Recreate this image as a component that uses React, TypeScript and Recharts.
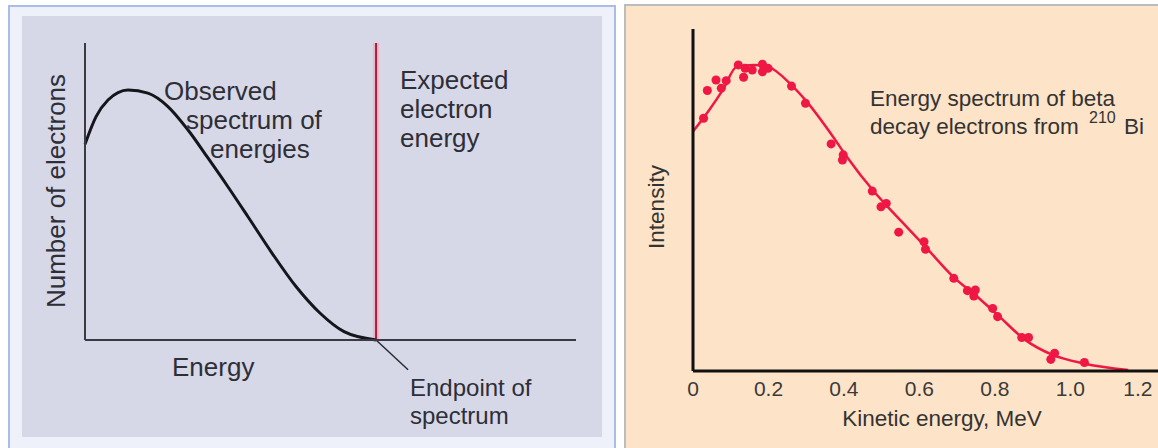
import React from "react";
import {
  ComposedChart,
  LineChart,
  Line,
  Scatter,
  XAxis,
  YAxis,
  ZAxis,
  ReferenceLine,
} from "recharts";

// left panel: schematic spectrum, energy in units of the endpoint
const schemeEnergy = [0, 0.038, 0.079, 0.148, 0.216, 0.285, 0.354, 0.423, 0.491, 0.56, 0.643, 0.725, 0.808, 0.89, 1.0];
const schemeCount = [0.659, 0.752, 0.808, 0.842, 0.831, 0.786, 0.707, 0.612, 0.516, 0.415, 0.292, 0.18, 0.09, 0.028, 0];
const endpoint = 1.0;

// right panel: 210Bi beta spectrum, fitted curve
const fitEnergy = [0, 0.043, 0.079, 0.116, 0.161, 0.198, 0.261, 0.298, 0.371, 0.407, 0.48, 0.516, 0.553, 0.616, 0.689, 0.753, 0.807, 0.88, 0.953, 1.035, 1.153];
const fitIntensity = [70.0, 76.3, 82.2, 89.0, 89.5, 89.0, 83.6, 79.2, 68.5, 62.7, 52.4, 48.0, 43.7, 36.3, 27.6, 21.7, 16.4, 9.1, 4.7, 2.2, 0.3];

// measured points
const measEnergy = [0.028, 0.038, 0.061, 0.075, 0.088, 0.12, 0.134, 0.138, 0.157, 0.184, 0.184, 0.199, 0.261, 0.298, 0.366, 0.398, 0.396, 0.475, 0.498, 0.512, 0.545, 0.612, 0.616, 0.691, 0.727, 0.744, 0.748, 0.794, 0.807, 0.871, 0.889, 0.948, 0.958, 1.037];
const measIntensity = [73.9, 82.0, 85.1, 82.7, 84.9, 89.5, 85.9, 88.5, 88.0, 89.7, 87.5, 88.5, 83.3, 78.3, 66.4, 63.2, 61.7, 52.6, 48.0, 49.0, 40.6, 37.8, 35.6, 27.1, 23.5, 21.9, 23.7, 18.3, 15.9, 9.8, 9.8, 3.4, 5.2, 2.5];

const energyTicks = [0, 0.2, 0.4, 0.6, 0.8, 1.0, 1.2];

const schemeData = schemeEnergy.map((e, i) => ({ e, n: schemeCount[i] }));
const fitData = fitEnergy.map((e, i) => ({ e, i: fitIntensity[i] }));
const measData = measEnergy.map((e, k) => ({ e, i: measIntensity[k] }));

const FONT = "'Liberation Sans', Arial, Helvetica, sans-serif";
const RED = "#ef1744";

function EnergyTick(props: any) {
  const { x, y, payload, index } = props;
  const v = payload.value as number;
  const label = v === 0 ? "0" : v.toFixed(1);
  const shift = index === energyTicks.length - 1 ? -8 : 0;
  return (
    <text x={x + shift} y={y + 17} textAnchor="middle" fontSize={21} fill="#3a3a3a" fontFamily={FONT}>
      {label}
    </text>
  );
}

export default function App() {
  return (
    <div style={{ position: "absolute", left: 0, top: 0, width: 1158, height: 448, overflow: "hidden", background: "#fff", fontFamily: FONT }}>
      {/* left frame */}
      <div style={{ position: "absolute", left: 8, top: 5, width: 604, height: 450, border: "2px solid #a9bde6", background: "#eef1f9" }} />
      <div style={{ position: "absolute", left: 22, top: 16, width: 580, height: 421, background: "#d6d8e8" }} />
      {/* right frame */}
      <div style={{ position: "absolute", left: 624, top: 4, width: 540, height: 450, borderLeft: "2px solid #bcbcbc", borderTop: "2px solid #bcbcbc", background: "#fde3c7" }} />

      <div style={{ position: "absolute", left: 0, top: 0 }}>
        <LineChart width={620} height={448} data={schemeData} margin={{ top: 43, left: 84, right: 44, bottom: 107 }}>
          <XAxis dataKey="e" type="number" domain={[0, 1.687]} height={1} tick={false} tickLine={false} axisLine={{ stroke: "#3a3a44", strokeWidth: 2 }} />
          <YAxis type="number" domain={[0, 1]} width={1} tick={false} tickLine={false} axisLine={{ stroke: "#3a3a44", strokeWidth: 2 }} />
          <ReferenceLine x={endpoint} stroke="#f2b3c2" strokeWidth={6} />
          <ReferenceLine x={endpoint} stroke="#9a2442" strokeWidth={2} />
          <ReferenceLine
            segment={[{ x: endpoint, y: 0 }, { x: 1.11, y: -0.1 }]}
            ifOverflow="visible"
            stroke="#2a2a30"
            strokeWidth={1.5}
          />
          <Line dataKey="n" type="monotone" stroke="#15151c" strokeWidth={3} dot={false} isAnimationActive={false} />
        </LineChart>
      </div>

      <div style={{ position: "absolute", left: 620, top: 0 }}>
        <ComposedChart width={538} height={448} margin={{ top: 29, left: 72, right: 0, bottom: 37 }}>
          <XAxis
            dataKey="e"
            type="number"
            domain={[0, 1.232]}
            ticks={energyTicks}
            interval={0}
            height={40}
            tickLine={false}
            tick={<EnergyTick />}
            axisLine={{ stroke: "#111", strokeWidth: 3 }}
          />
          <YAxis dataKey="i" type="number" domain={[0, 100]} width={1} tick={false} tickLine={false} axisLine={{ stroke: "#111", strokeWidth: 3 }} />
          <ZAxis range={[64, 64]} />
          <Line data={fitData} dataKey="i" type="monotone" stroke={RED} strokeWidth={2.5} dot={false} isAnimationActive={false} />
          <Scatter data={measData} dataKey="i" fill={RED} isAnimationActive={false} />
        </ComposedChart>
      </div>

      <svg width={1158} height={448} style={{ position: "absolute", left: 0, top: 0, pointerEvents: "none" }} fontFamily={FONT}>
        <g fill="#2e2e36" fontSize={26} dominantBaseline="central">
          <text x={164} y={91}>Observed</text>
          <text x={186} y={120}>spectrum of</text>
          <text x={210} y={149}>energies</text>
          <text x={400} y={80}>Expected</text>
          <text x={400} y={109}>electron</text>
          <text x={400} y={138}>energy</text>
          <text x={172} y={367}>Energy</text>
          <text x={410} y={387} fontSize={24}>Endpoint of</text>
          <text x={410} y={415} fontSize={24}>spectrum</text>
          <text x={56} y={191} textAnchor="middle" transform="rotate(-90 56 191)">Number of electrons</text>
        </g>
        <g fill="#333" fontSize={22.5} dominantBaseline="central">
          <text x={870} y={98}>Energy spectrum of beta</text>
          <text x={870} y={126}>decay electrons from</text>
          <text x={1089} y={117.5} fontSize={16}>210</text>
          <text x={1124} y={126}>Bi</text>
          <text x={942} y={418} textAnchor="middle">Kinetic energy, MeV</text>
          <text x={656} y={207} textAnchor="middle" transform="rotate(-90 656 207)">Intensity</text>
        </g>
      </svg>
    </div>
  );
}
